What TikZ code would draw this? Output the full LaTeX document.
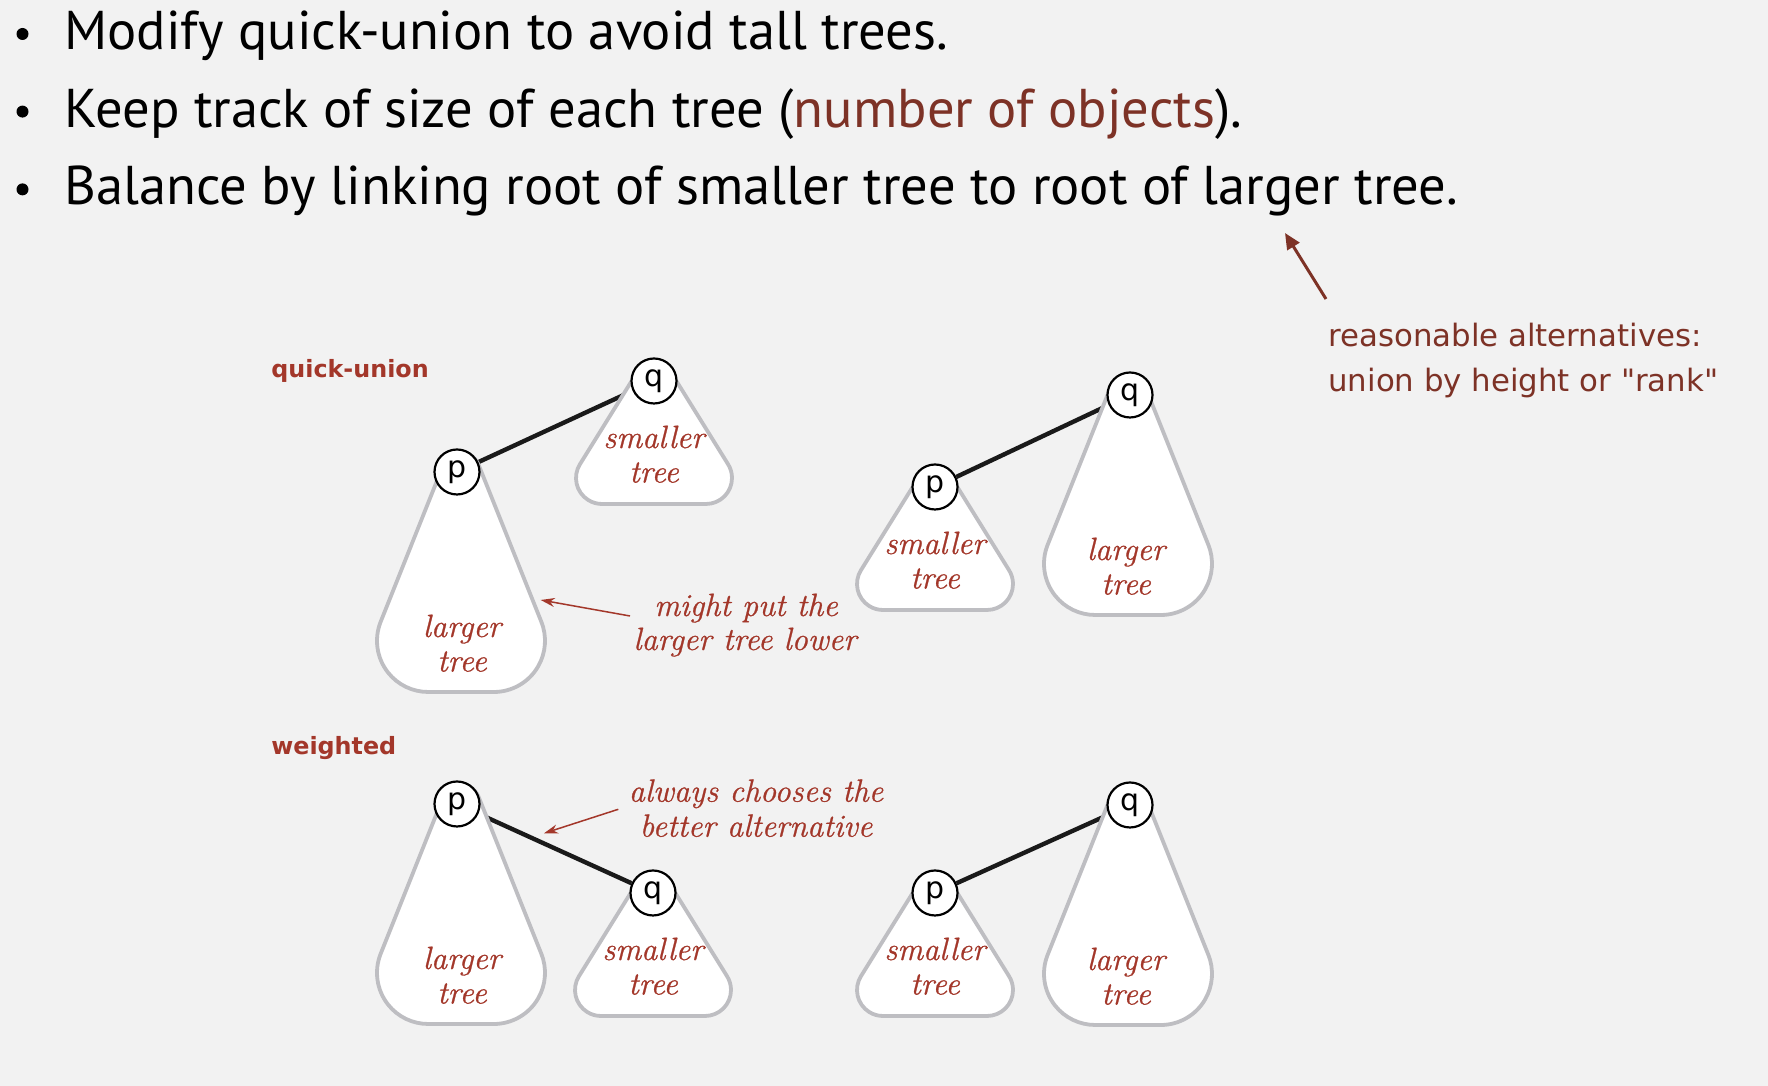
\documentclass[tikz,border=0pt]{standalone}
\usepackage{fontspec}
\usetikzlibrary{arrows.meta,calc}
\newfontfamily\ptsans{PT Sans}
\newfontfamily\dejavu{DejaVu Sans}
\newfontfamily\lblfont[FakeBold=0.8]{Latin Modern Roman}
\definecolor{bgc}{HTML}{F2F2F2}
\definecolor{dbrown}{HTML}{7D3226}
\definecolor{lred}{HTML}{A3372A}
\definecolor{tgray}{HTML}{BEBEC2}
\definecolor{edgec}{HTML}{1A1A1A}
\pgfdeclarelayer{bg}\pgfdeclarelayer{edges}\pgfdeclarelayer{trees}
\pgfsetlayers{bg,edges,trees,main}
\newcommand{\bigtree}[2]{\path[treeshape] ($(#1)+(#2+17.64,7.06)$) arc[start angle=21.8,end angle=158.2,radius=19] -- ($(#1)+(#2-80.34,-149.78)$) arc[start angle=158.2,end angle=270,radius=51.2] -- ($(#1)+(#2+32.8,-220)$) arc[start angle=270,end angle=381.8,radius=51.2] -- cycle;}
\newcommand{\smalltree}[1]{\path[treeshape] ($(#1)+(16.14,10.03)$) arc[start angle=31.85,end angle=148.15,radius=19] -- ($(#1)+(-74.08,-83.28)$) arc[start angle=148.15,end angle=270,radius=26] -- ($(#1)+(52,-123)$) arc[start angle=270,end angle=391.85,radius=26] -- cycle;}
\begin{document}
\begin{tikzpicture}[x=0.5pt,y=0.5pt,
  treeshape/.style={draw=tgray, fill=white, line width=1.9pt, line join=round},
  vert/.style={circle, draw=black, fill=white, line width=1.1pt, minimum size=22.5pt, inner sep=0pt, font=\dejavu\fontsize{15}{15}\selectfont},
  edge/.style={draw=edgec, line width=2.2pt},
  lbl/.style={text=lred, font=\lblfont\itshape\fontsize{16.1}{19}\selectfont, inner sep=0pt, anchor=base},
  sect/.style={text=lred, font=\dejavu\bfseries\fontsize{11.9}{14}\selectfont, inner sep=0pt, anchor=base west},
  bullettext/.style={font=\ptsans\fontsize{27.3}{32}\selectfont, inner sep=0pt, anchor=base west},
  dot/.style={circle, fill=black, minimum size=6pt, inner sep=0pt},
  alt/.style={text=dbrown, font=\dejavu\fontsize{15.4}{18}\selectfont, inner sep=0pt, anchor=base west},
  notearrow/.style={draw=lred, line width=0.75pt, -{Stealth[length=7pt,width=4.5pt]}},
  altarrow/.style={draw=dbrown, line width=1.5pt, -{Triangle[length=8pt,width=7pt]}}]
\useasboundingbox (0,0) rectangle (1768,1086);
\begin{pgfonlayer}{bg}
\fill[bgc] (0,0) rectangle (1768,1086);
\end{pgfonlayer}
% bullets
\node[dot] (b1) at (22.5,1052) {};
\node[dot] (b2) at (22.5,974.4) {};
\node[dot] (b3) at (22.5,896.6) {};
\node[bullettext] (t1) at (64,1036.5) {Modify quick-union to avoid tall trees.};
\node[bullettext] (t2) at (64,958.7) {Keep track of size of each tree (\textcolor{dbrown}{number of objects}).};
\node[bullettext] (t3) at (64,881) {Balance by linking root of smaller tree to root of larger tree.};
% alternatives note
\node[alt] (r1) at (1328,739.3) {reasonable alternatives:};
\node[alt] (r2) at (1328,694.3) {union by height or "rank"};
\coordinate (altTail) at (1326,787);
\coordinate (altTip) at (1285,853);
\draw[altarrow] (altTail) -- (altTip);
% section labels
\node[sect] (qu) at (271,708.7) {quick-union};
\node[sect] (wt) at (271,331) {weighted};
% vertices
\node[vert] (p1) at (457,614) {p};
\node[vert] (q1) at (654,705) {q};
\node[vert] (p2) at (935,599) {p};
\node[vert] (q2) at (1130,691) {q};
\node[vert] (p3) at (457,282) {p};
\node[vert] (q3) at (653,193) {q};
\node[vert] (p4) at (935,193) {p};
\node[vert] (q4) at (1130,281) {q};
% trees
\begin{pgfonlayer}{trees}
\bigtree{p1}{4}
\smalltree{q1}
\smalltree{p2}
\bigtree{q2}{-2}
\bigtree{p3}{4}
\smalltree{q3}
\smalltree{p4}
\bigtree{q4}{-2}
\end{pgfonlayer}
% links
\begin{pgfonlayer}{edges}
\draw[edge] (p1) -- (q1);
\draw[edge] (p2) -- (q2);
\draw[edge] (p3) -- (q3);
\draw[edge] (p4) -- (q4);
\end{pgfonlayer}
% tree labels
\node[lbl] (p1a) at ($(p1)+(5,-165)$) {larger};
\node[lbl] (p1b) at ($(p1)+(5,-199.5)$) {tree};
\node[lbl] (q1a) at ($(q1)+(0,-67)$) {smaller};
\node[lbl] (q1b) at ($(q1)+(0,-101.5)$) {tree};
\node[lbl] (p2a) at ($(p2)+(0,-67)$) {smaller};
\node[lbl] (p2b) at ($(p2)+(0,-101.5)$) {tree};
\node[lbl] (q2a) at ($(q2)+(-4,-165)$) {larger};
\node[lbl] (q2b) at ($(q2)+(-4,-199.5)$) {tree};
\node[lbl] (p3a) at ($(p3)+(5,-165)$) {larger};
\node[lbl] (p3b) at ($(p3)+(5,-199.5)$) {tree};
\node[lbl] (q3a) at ($(q3)+(0,-67)$) {smaller};
\node[lbl] (q3b) at ($(q3)+(0,-101.5)$) {tree};
\node[lbl] (p4a) at ($(p4)+(0,-67)$) {smaller};
\node[lbl] (p4b) at ($(p4)+(0,-101.5)$) {tree};
\node[lbl] (q4a) at ($(q4)+(-4,-165)$) {larger};
\node[lbl] (q4b) at ($(q4)+(-4,-199.5)$) {tree};
% annotations
\node[lbl] (m1) at (746,470) {might put the};
\node[lbl] (m2) at (745,436) {larger tree lower};
\coordinate (mTail) at (630,470);
\coordinate (mTip) at (540.7,486);
\draw[notearrow] (mTail) -- (mTip);
\node[lbl] (a1) at (756,284.3) {always chooses the};
\node[lbl] (a2) at (756,249.3) {better alternative};
\coordinate (aTail) at (618.3,276.7);
\coordinate (aTip) at (544,252.7);
\draw[notearrow] (aTail) -- (aTip);
\end{tikzpicture}
\end{document}
